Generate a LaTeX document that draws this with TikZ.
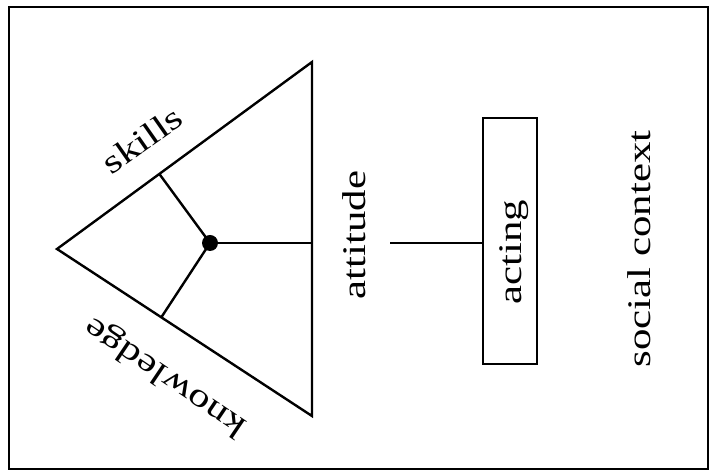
\documentclass[tikz,border=0pt]{standalone}
\usepackage{fontspec}
\setmainfont{Liberation Serif}
\usetikzlibrary{calc}
\newcommand{\wide}[1]{\scalebox{1.3}[1]{#1}}
\begin{document}
\begin{tikzpicture}[x=1pt,y=1pt,
  lbl/.style={inner sep=0pt, font=\fontsize{33}{40}\selectfont},
  edgeline/.style={line width=2.4pt, line join=miter},
  thinline/.style={line width=1.6pt}]
\useasboundingbox (0,0) rectangle (715,473);
\draw[line width=2pt] (9,4) rectangle (708,466);
% triangle
\coordinate (A) at (57,224);
\coordinate (B) at (312,411);
\coordinate (C) at (312,57);
\draw[edgeline] (A) -- (B) -- (C) -- cycle;
\node[circle, fill, inner sep=0pt, minimum size=16pt] (dot) at (210,230) {};
\draw[edgeline] (dot.center) -- ($(A)!(dot.center)!(B)$);
\draw[edgeline] (dot.center) -- ($(A)!(dot.center)!(C)$);
\draw[edgeline] (dot.center) -- ($(B)!(dot.center)!(C)$);
% acting box
\node[draw, thinline, minimum width=54pt, minimum height=246pt, inner sep=0pt] (actbox) at (510,232) {};
\coordinate (lineL) at (390,230);
\draw[thinline] (lineL) -- (lineL -| actbox.west);
% labels
\node[lbl, rotate=35] (skills) at (142,333) {\wide{skills}};
\node[lbl, rotate=146] (knowledge) at (166,97) {\wide{knowledge}};
\node[lbl, rotate=90] (attitude) at (354,238) {\wide{attitude}};
\node[lbl, rotate=90] (acting) at (514,220.5) {\wide{acting}};
\node[lbl, rotate=90] (social) at (639,224) {\wide{social context}};
\end{tikzpicture}
\end{document}
